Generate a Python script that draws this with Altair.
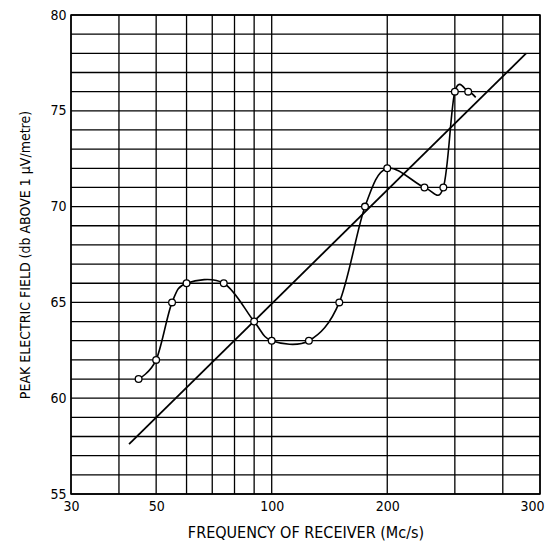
import altair as alt
import pandas as pd

# measured points (open circles)
freq = [45, 50, 55, 60, 75, 90, 100, 125, 150, 175, 200, 250, 280, 300, 325]
field = [61, 62, 65, 66, 66, 64, 63, 63, 65, 70, 72, 71, 71, 76, 76]
# end of the hand-drawn curve beyond the last circle
tail_freq = [340]
tail_field = [75.7]
# straight reference line end points
line_freq = [42.5, 460]
line_field = [57.6, 78.0]

x_grid = [30, 40, 50, 60, 70, 80, 90, 100, 200, 300, 400, 500]
y_grid = list(range(55, 81))
x_ticks = [30, 50, 100, 200, 500]
x_tick_labels = ["30", "50", "100", "200", "300"]
y_ticks = [55, 60, 65, 70, 75, 80]

FONT = "DejaVu Sans Condensed, DejaVu Sans, sans-serif"

pts = pd.DataFrame({"f": freq, "v": field})
curve = pd.DataFrame({"f": freq + tail_freq, "v": field + tail_field})
ref = pd.DataFrame({"f": line_freq, "v": line_field})
xg = pd.DataFrame({"f": x_grid})
yg = pd.DataFrame({"v": y_grid})

label_expr = "{" + ",".join(f"'{v}':'{l}'" for v, l in zip(x_ticks, x_tick_labels)) + "}[datum.value]"
last_test = f"datum.value == {x_ticks[-1]}"

xscale = alt.Scale(type="log", domain=[30, 500], nice=False)
yscale = alt.Scale(domain=[55, 80], nice=False, zero=False)

xaxis = alt.Axis(values=x_ticks, labelExpr=label_expr, grid=False, ticks=False, domain=False,
                 labelFlush=False,
                 labelAlign={"condition": {"test": last_test, "value": "right"}, "value": "center"},
                 labelOffset={"condition": {"test": last_test, "value": 4}, "value": 0},
                 title="FREQUENCY OF RECEIVER (Mc/s)", titleFontSize=16,
                 labelPadding=5, titlePadding=11)
yaxis = alt.Axis(values=y_ticks, grid=False, ticks=False, domain=False,
                 title="PEAK ELECTRIC FIELD (db ABOVE 1 μV/metre)", titleFontSize=14,
                 labelPadding=5, titlePadding=17)

vgrid = alt.Chart(xg).mark_rule(color="black", strokeWidth=1.3).encode(
    x=alt.X("f:Q", scale=xscale, axis=xaxis))
hgrid = alt.Chart(yg).mark_rule(color="black", strokeWidth=1.3).encode(
    y=alt.Y("v:Q", scale=yscale, axis=yaxis))

refline = alt.Chart(ref).mark_line(color="black", strokeWidth=1.8).encode(
    x=alt.X("f:Q", scale=xscale), y=alt.Y("v:Q", scale=yscale))
curveline = alt.Chart(curve).mark_line(color="black", strokeWidth=1.6, interpolate="cardinal").encode(
    x=alt.X("f:Q", scale=xscale), y=alt.Y("v:Q", scale=yscale))
circles = alt.Chart(pts).mark_point(shape="circle", filled=True, fill="white", stroke="black",
                                     strokeWidth=1.3, size=45, opacity=1).encode(
    x=alt.X("f:Q", scale=xscale), y=alt.Y("v:Q", scale=yscale))

chart = alt.layer(vgrid, hgrid, refline, curveline, circles).properties(
    width=469, height=479,
    autosize=alt.AutoSizeParams(type="none"),
    padding={"left": 63, "top": 7, "right": 5, "bottom": 48},
    background="white",
).configure_view(stroke="black", strokeWidth=1.5).configure_axis(
    labelFont=FONT, labelFontSize=14, labelColor="black",
    titleFont=FONT, titleFontWeight="normal", titleColor="black",
)

chart.save("out.html", embed_options={"renderer": "svg", "actions": False})
